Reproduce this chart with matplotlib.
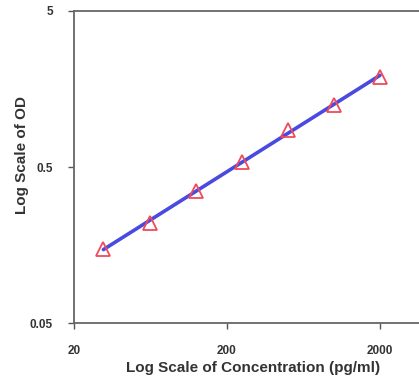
import numpy as np
import matplotlib
matplotlib.use("Agg")
import matplotlib.pyplot as plt

plt.rcParams['font.family'] = ['Liberation Sans', 'DejaVu Sans']

concentration = [31.25, 62.5, 125, 250, 500, 1000, 2000]
od = [0.149, 0.219, 0.351, 0.538, 0.863, 1.248, 1.888]
x_ticks = [20, 200, 2000]
x_tick_labels = ["20", "200", "2000"]
y_ticks = [0.05, 0.5, 5]
y_tick_labels = ["0.05", "0.5", "5"]

fig = plt.figure(figsize=(4.19, 3.77), dpi=100)
ax = fig.add_axes([0.176, 0.143, 0.824, 0.828])

lx = np.log10(concentration)
ly = np.log10(od)
slope, intercept = np.polyfit(lx, ly, 1)
fit_x = np.array(concentration)
fit_y = 10 ** (intercept + slope * lx)
ax.plot(fit_x, fit_y, color='#4a4ae0', lw=2.6, zorder=2, solid_capstyle='round')
ax.plot(concentration, od, linestyle='none', marker='^', markersize=10,
        markerfacecolor='none', markeredgecolor='#f04a5a', markeredgewidth=1.3, zorder=3)

ax.set_xscale('log')
ax.set_yscale('log')
ax.set_xlim(20, 20 * 10 ** ((419 - 74) / 153))
ax.set_ylim(0.05, 5)
ax.set_xticks(x_ticks)
ax.set_xticklabels(x_tick_labels)
ax.set_yticks(y_ticks)
ax.set_yticklabels(y_tick_labels)
ax.minorticks_off()
ax.tick_params(axis='both', labelsize=8.5, labelcolor='#333333', color='#555555',
               length=4, width=1, direction='out')
ax.tick_params(axis='x', pad=12)
ax.tick_params(axis='y', pad=11)
for t in ax.get_xticklabels() + ax.get_yticklabels():
    t.set_fontweight('bold')

for s in ['left', 'bottom', 'top']:
    ax.spines[s].set_color('#666666')
    ax.spines[s].set_linewidth(1.3)
ax.spines['right'].set_visible(False)

ax.set_xlabel('Log Scale of Concentration (pg/ml)', fontsize=11, fontweight='bold',
              color='#333333', labelpad=2)
ax.xaxis.set_label_coords(0.52, -0.12)
ax.set_ylabel('Log Scale of OD', fontsize=11, fontweight='bold', color='#333333', labelpad=4)
ax.yaxis.set_label_coords(-0.13, 0.54)

fig.savefig('out.png', dpi=100)
